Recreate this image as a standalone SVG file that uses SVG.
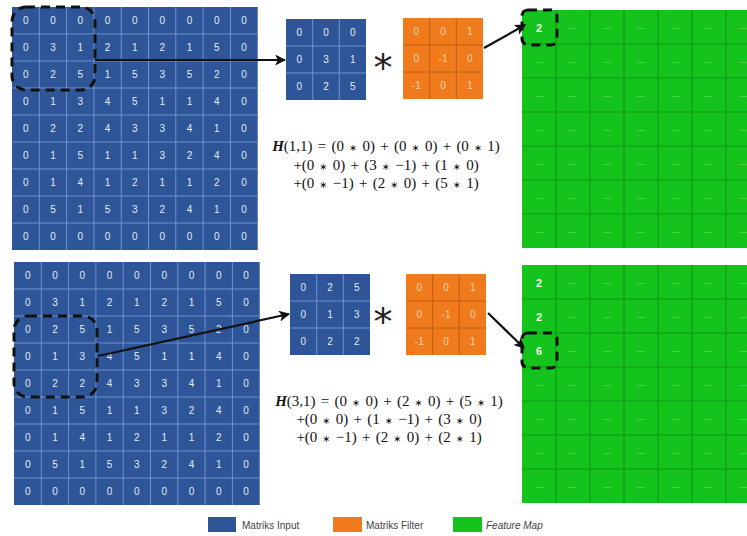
<svg xmlns="http://www.w3.org/2000/svg" width="747" height="536" viewBox="0 0 747 536">
<style>
.bl{fill:#2d5597}
.bg{stroke:#6f92cf;stroke-width:1;fill:none}
.or{fill:#ef7b1c}
.og{stroke:#c65d0c;stroke-width:1;fill:none}
.gr{fill:#14c41c}
.gg{stroke:#0c9a14;stroke-width:1.2;fill:none}
.t{font-family:"Liberation Sans",Arial,sans-serif;font-size:10px;fill:#e3ebf7;text-anchor:middle}
.to{font-family:"Liberation Sans",Arial,sans-serif;font-size:10px;fill:#fcd3ad;text-anchor:middle}
.tg{font-family:"Liberation Sans",Arial,sans-serif;font-size:11px;font-weight:bold;fill:#e8fbe8;text-anchor:middle}
.td{font-family:"Liberation Sans",Arial,sans-serif;font-size:8px;fill:#7de67f;text-anchor:middle}
.f{font-family:"Liberation Serif","Times New Roman",serif;font-size:15px;word-spacing:1.5px;fill:#111;text-anchor:middle}
.m{font-family:"DejaVu Sans",sans-serif;font-size:9.5px}
.hb{font-weight:bold;font-style:italic}
.ast{font-family:"DejaVu Sans",sans-serif;font-size:38px;fill:#222;text-anchor:middle}
.dash{fill:none;stroke:#111;stroke-width:3;stroke-dasharray:9 6}
.arr{stroke:#111;stroke-width:2.2;fill:none;marker-end:url(#ah)}
.lg{font-family:"Liberation Sans",Arial,sans-serif;font-size:10px;fill:#444}
</style>
<defs>
<marker id="ah" viewBox="0 0 10 10" refX="9" refY="5" markerWidth="5" markerHeight="5" orient="auto" markerUnits="strokeWidth">
<path d="M0,0 L10,5 L0,10 L2.5,5 Z" fill="#111"/>
</marker>
<g id="inp">
<rect class="bl" x="0" y="0" width="245.7" height="243"/>
<path class="bg" d="M27.3,0V243M54.6,0V243M81.9,0V243M109.2,0V243M136.5,0V243M163.8,0V243M191.1,0V243M218.4,0V243M0,27H245.7M0,54H245.7M0,81H245.7M0,108H245.7M0,135H245.7M0,162H245.7M0,189H245.7M0,216H245.7"/>
</g>
<g id="sb">
<rect class="bl" x="0" y="0" width="80" height="81"/>
<path class="bg" d="M26.7,0V81M53.3,0V81M0,27H80M0,54H80"/>
</g>
<g id="so">
<rect class="or" x="0" y="0" width="80" height="81"/>
<path class="og" d="M26.7,0V81M53.3,0V81M0,27H80M0,54H80"/>
</g>
<g id="gm">
<rect class="gr" x="0" y="0" width="225" height="238"/>
<path class="gg" d="M34,0V238M68,0V238M102,0V238M136,0V238M170,0V238M204,0V238M0,34H225M0,68H225M0,102H225M0,136H225M0,170H225M0,204H225"/>
</g>
<g id="dr">
<text x="51" y="20" class="td">---</text><text x="85" y="20" class="td">---</text><text x="119" y="20" class="td">---</text><text x="153" y="20" class="td">---</text><text x="187" y="20" class="td">---</text><text x="221" y="20" class="td">---</text>
</g>
<g id="fr">
<text x="17" y="20" class="td">---</text>
<use href="#dr"/>
</g>
</defs>

<g id="input-top" transform="translate(12,7)">
<use href="#inp"/>
<text class="t" x="13.7" y="17">0</text><text class="t" x="41" y="17">0</text><text class="t" x="68.3" y="17">0</text><text class="t" x="95.6" y="17">0</text><text class="t" x="122.9" y="17">0</text><text class="t" x="150.2" y="17">0</text><text class="t" x="177.5" y="17">0</text><text class="t" x="204.8" y="17">0</text><text class="t" x="232.1" y="17">0</text>
<text class="t" x="13.7" y="44">0</text><text class="t" x="41" y="44">3</text><text class="t" x="68.3" y="44">1</text><text class="t" x="95.6" y="44">2</text><text class="t" x="122.9" y="44">1</text><text class="t" x="150.2" y="44">2</text><text class="t" x="177.5" y="44">1</text><text class="t" x="204.8" y="44">5</text><text class="t" x="232.1" y="44">0</text>
<text class="t" x="13.7" y="71">0</text><text class="t" x="41" y="71">2</text><text class="t" x="68.3" y="71">5</text><text class="t" x="95.6" y="71">1</text><text class="t" x="122.9" y="71">5</text><text class="t" x="150.2" y="71">3</text><text class="t" x="177.5" y="71">5</text><text class="t" x="204.8" y="71">2</text><text class="t" x="232.1" y="71">0</text>
<text class="t" x="13.7" y="98">0</text><text class="t" x="41" y="98">1</text><text class="t" x="68.3" y="98">3</text><text class="t" x="95.6" y="98">4</text><text class="t" x="122.9" y="98">5</text><text class="t" x="150.2" y="98">1</text><text class="t" x="177.5" y="98">1</text><text class="t" x="204.8" y="98">4</text><text class="t" x="232.1" y="98">0</text>
<text class="t" x="13.7" y="125">0</text><text class="t" x="41" y="125">2</text><text class="t" x="68.3" y="125">2</text><text class="t" x="95.6" y="125">4</text><text class="t" x="122.9" y="125">3</text><text class="t" x="150.2" y="125">3</text><text class="t" x="177.5" y="125">4</text><text class="t" x="204.8" y="125">1</text><text class="t" x="232.1" y="125">0</text>
<text class="t" x="13.7" y="152">0</text><text class="t" x="41" y="152">1</text><text class="t" x="68.3" y="152">5</text><text class="t" x="95.6" y="152">1</text><text class="t" x="122.9" y="152">1</text><text class="t" x="150.2" y="152">3</text><text class="t" x="177.5" y="152">2</text><text class="t" x="204.8" y="152">4</text><text class="t" x="232.1" y="152">0</text>
<text class="t" x="13.7" y="179">0</text><text class="t" x="41" y="179">1</text><text class="t" x="68.3" y="179">4</text><text class="t" x="95.6" y="179">1</text><text class="t" x="122.9" y="179">2</text><text class="t" x="150.2" y="179">1</text><text class="t" x="177.5" y="179">1</text><text class="t" x="204.8" y="179">2</text><text class="t" x="232.1" y="179">0</text>
<text class="t" x="13.7" y="206">0</text><text class="t" x="41" y="206">5</text><text class="t" x="68.3" y="206">1</text><text class="t" x="95.6" y="206">5</text><text class="t" x="122.9" y="206">3</text><text class="t" x="150.2" y="206">2</text><text class="t" x="177.5" y="206">4</text><text class="t" x="204.8" y="206">1</text><text class="t" x="232.1" y="206">0</text>
<text class="t" x="13.7" y="233">0</text><text class="t" x="41" y="233">0</text><text class="t" x="68.3" y="233">0</text><text class="t" x="95.6" y="233">0</text><text class="t" x="122.9" y="233">0</text><text class="t" x="150.2" y="233">0</text><text class="t" x="177.5" y="233">0</text><text class="t" x="204.8" y="233">0</text><text class="t" x="232.1" y="233">0</text>
<rect class="dash" x="0" y="0" width="83" height="83" rx="14"/>
</g>

<g id="input-bottom" transform="translate(14,262)">
<use href="#inp"/>
<text class="t" x="13.7" y="17">0</text><text class="t" x="41" y="17">0</text><text class="t" x="68.3" y="17">0</text><text class="t" x="95.6" y="17">0</text><text class="t" x="122.9" y="17">0</text><text class="t" x="150.2" y="17">0</text><text class="t" x="177.5" y="17">0</text><text class="t" x="204.8" y="17">0</text><text class="t" x="232.1" y="17">0</text>
<text class="t" x="13.7" y="44">0</text><text class="t" x="41" y="44">3</text><text class="t" x="68.3" y="44">1</text><text class="t" x="95.6" y="44">2</text><text class="t" x="122.9" y="44">1</text><text class="t" x="150.2" y="44">2</text><text class="t" x="177.5" y="44">1</text><text class="t" x="204.8" y="44">5</text><text class="t" x="232.1" y="44">0</text>
<text class="t" x="13.7" y="71">0</text><text class="t" x="41" y="71">2</text><text class="t" x="68.3" y="71">5</text><text class="t" x="95.6" y="71">1</text><text class="t" x="122.9" y="71">5</text><text class="t" x="150.2" y="71">3</text><text class="t" x="177.5" y="71">5</text><text class="t" x="204.8" y="71">2</text><text class="t" x="232.1" y="71">0</text>
<text class="t" x="13.7" y="98">0</text><text class="t" x="41" y="98">1</text><text class="t" x="68.3" y="98">3</text><text class="t" x="95.6" y="98">4</text><text class="t" x="122.9" y="98">5</text><text class="t" x="150.2" y="98">1</text><text class="t" x="177.5" y="98">1</text><text class="t" x="204.8" y="98">4</text><text class="t" x="232.1" y="98">0</text>
<text class="t" x="13.7" y="125">0</text><text class="t" x="41" y="125">2</text><text class="t" x="68.3" y="125">2</text><text class="t" x="95.6" y="125">4</text><text class="t" x="122.9" y="125">3</text><text class="t" x="150.2" y="125">3</text><text class="t" x="177.5" y="125">4</text><text class="t" x="204.8" y="125">1</text><text class="t" x="232.1" y="125">0</text>
<text class="t" x="13.7" y="152">0</text><text class="t" x="41" y="152">1</text><text class="t" x="68.3" y="152">5</text><text class="t" x="95.6" y="152">1</text><text class="t" x="122.9" y="152">1</text><text class="t" x="150.2" y="152">3</text><text class="t" x="177.5" y="152">2</text><text class="t" x="204.8" y="152">4</text><text class="t" x="232.1" y="152">0</text>
<text class="t" x="13.7" y="179">0</text><text class="t" x="41" y="179">1</text><text class="t" x="68.3" y="179">4</text><text class="t" x="95.6" y="179">1</text><text class="t" x="122.9" y="179">2</text><text class="t" x="150.2" y="179">1</text><text class="t" x="177.5" y="179">1</text><text class="t" x="204.8" y="179">2</text><text class="t" x="232.1" y="179">0</text>
<text class="t" x="13.7" y="206">0</text><text class="t" x="41" y="206">5</text><text class="t" x="68.3" y="206">1</text><text class="t" x="95.6" y="206">5</text><text class="t" x="122.9" y="206">3</text><text class="t" x="150.2" y="206">2</text><text class="t" x="177.5" y="206">4</text><text class="t" x="204.8" y="206">1</text><text class="t" x="232.1" y="206">0</text>
<text class="t" x="13.7" y="233">0</text><text class="t" x="41" y="233">0</text><text class="t" x="68.3" y="233">0</text><text class="t" x="95.6" y="233">0</text><text class="t" x="122.9" y="233">0</text><text class="t" x="150.2" y="233">0</text><text class="t" x="177.5" y="233">0</text><text class="t" x="204.8" y="233">0</text><text class="t" x="232.1" y="233">0</text>
<rect class="dash" x="0" y="54" width="83" height="81" rx="14"/>
</g>

<g id="patch-top" transform="translate(286,19)">
<use href="#sb"/>
<text class="t" x="13.3" y="17">0</text><text class="t" x="40" y="17">0</text><text class="t" x="66.7" y="17">0</text>
<text class="t" x="13.3" y="44">0</text><text class="t" x="40" y="44">3</text><text class="t" x="66.7" y="44">1</text>
<text class="t" x="13.3" y="71">0</text><text class="t" x="40" y="71">2</text><text class="t" x="66.7" y="71">5</text>
</g>
<g id="filter-top" transform="translate(403,18)">
<use href="#so"/>
<text class="to" x="13.3" y="17">0</text><text class="to" x="40" y="17">0</text><text class="to" x="66.7" y="17">1</text>
<text class="to" x="13.3" y="44">0</text><text class="to" x="40" y="44">-1</text><text class="to" x="66.7" y="44">0</text>
<text class="to" x="13.3" y="71">-1</text><text class="to" x="40" y="71">0</text><text class="to" x="66.7" y="71">1</text>
</g>
<g id="patch-bottom" transform="translate(290,274)">
<use href="#sb"/>
<text class="t" x="13.3" y="17">0</text><text class="t" x="40" y="17">2</text><text class="t" x="66.7" y="17">5</text>
<text class="t" x="13.3" y="44">0</text><text class="t" x="40" y="44">1</text><text class="t" x="66.7" y="44">3</text>
<text class="t" x="13.3" y="71">0</text><text class="t" x="40" y="71">2</text><text class="t" x="66.7" y="71">2</text>
</g>
<g id="filter-bottom" transform="translate(406,274)">
<use href="#so"/>
<text class="to" x="13.3" y="17">0</text><text class="to" x="40" y="17">0</text><text class="to" x="66.7" y="17">1</text>
<text class="to" x="13.3" y="44">0</text><text class="to" x="40" y="44">-1</text><text class="to" x="66.7" y="44">0</text>
<text class="to" x="13.3" y="71">-1</text><text class="to" x="40" y="71">0</text><text class="to" x="66.7" y="71">1</text>
</g>

<g id="op-top"><text class="ast" x="383" y="81">*</text></g>
<g id="op-bottom"><text class="ast" x="383" y="335">*</text></g>

<g id="formula-top">
<text class="f" x="386" y="151"><tspan class="hb">H</tspan>(1,1) = (0 <tspan class="m">∗</tspan> 0) + (0 <tspan class="m">∗</tspan> 0) + (0 <tspan class="m">∗</tspan> 1)</text>
<text class="f" x="386" y="170">+(0 <tspan class="m">∗</tspan> 0) + (3 <tspan class="m">∗</tspan> −1) + (1 <tspan class="m">∗</tspan> 0)</text>
<text class="f" x="386" y="188">+(0 <tspan class="m">∗</tspan> −1) + (2 <tspan class="m">∗</tspan> 0) + (5 <tspan class="m">∗</tspan> 1)</text>
</g>
<g id="formula-bottom">
<text class="f" x="389" y="406"><tspan class="hb">H</tspan>(3,1) = (0 <tspan class="m">∗</tspan> 0) + (2 <tspan class="m">∗</tspan> 0) + (5 <tspan class="m">∗</tspan> 1)</text>
<text class="f" x="389" y="424">+(0 <tspan class="m">∗</tspan> 0) + (1 <tspan class="m">∗</tspan> −1) + (3 <tspan class="m">∗</tspan> 0)</text>
<text class="f" x="389" y="442">+(0 <tspan class="m">∗</tspan> −1) + (2 <tspan class="m">∗</tspan> 0) + (2 <tspan class="m">∗</tspan> 1)</text>
</g>

<g id="feature-top" transform="translate(522,10)">
<use href="#gm"/>
<text class="tg" x="17" y="22">2</text>
<use href="#dr"/>
<use href="#fr" y="34"/><use href="#fr" y="68"/><use href="#fr" y="102"/><use href="#fr" y="136"/><use href="#fr" y="170"/><use href="#fr" y="204"/>
<rect class="dash" x="0" y="0" width="35" height="35" rx="6"/>
</g>
<g id="feature-bottom" transform="translate(522,265)">
<use href="#gm"/>
<text class="tg" x="17" y="22">2</text>
<text class="tg" x="17" y="56">2</text>
<text class="tg" x="17" y="90">6</text>
<use href="#dr"/><use href="#dr" y="34"/><use href="#dr" y="68"/>
<use href="#fr" y="102"/><use href="#fr" y="136"/><use href="#fr" y="170"/><use href="#fr" y="204"/>
<rect class="dash" x="0" y="68" width="35" height="35" rx="6"/>
</g>

<g id="connectors">
<line class="arr" x1="95" y1="60" x2="285" y2="60"/>
<line class="arr" x1="484" y1="48" x2="525" y2="25"/>
<line class="arr" x1="98" y1="356" x2="289" y2="314"/>
<line class="arr" x1="488" y1="313" x2="524" y2="348"/>
</g>

<g id="legend">
<rect class="bl" x="208" y="517" width="28" height="15"/>
<text class="lg" x="242" y="529">Matriks Input</text>
<rect class="or" x="333" y="517" width="29" height="15"/>
<text class="lg" x="366" y="529">Matriks Filter</text>
<rect class="gr" x="453" y="517" width="29" height="15"/>
<text class="lg" x="486" y="529" font-style="italic">Feature Map</text>
</g>
</svg>
